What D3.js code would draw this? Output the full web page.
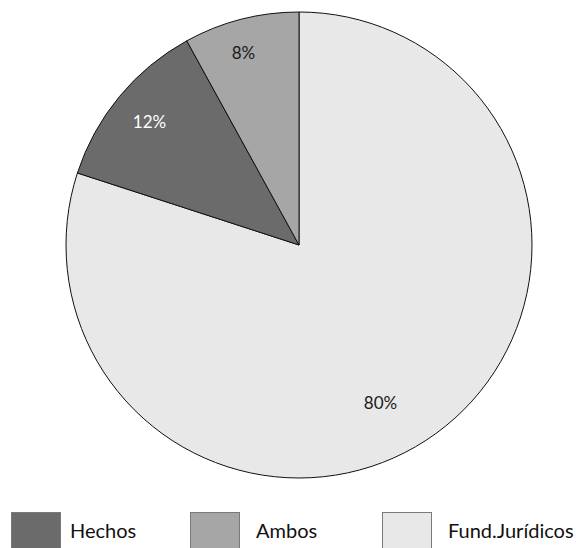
<!DOCTYPE html>
<html><head><meta charset="utf-8">
<script src="https://cdn.jsdelivr.net/npm/d3@7"></script>
<style>html,body{margin:0;padding:0;background:#fff;}</style>
</head><body>
<svg id="c" width="576" height="548"></svg>
<script>
const categories = ["Fund.Jurídicos", "Hechos", "Ambos"];
const values = [80, 12, 8];
const labels = ["80%", "12%", "8%"];
const legendOrder = ["Hechos", "Ambos", "Fund.Jurídicos"];
const colors = {"Hechos": "#6b6b6b", "Ambos": "#a6a6a6", "Fund.Jurídicos": "#e8e8e8"};
const labelColors = {"Hechos": "#ffffff", "Ambos": "#1a1a1a", "Fund.Jurídicos": "#1a1a1a"};
// label placement tweaks (angle offset in rad, radius in px)
const labelPlace = {"Fund.Jurídicos": [0.15, 177], "Hechos": [0, 194], "Ambos": [-0.03, 200]};
// legend layout (box x, text x)
const legendLayout = {"Hechos": [11, 70], "Ambos": [190, 256], "Fund.Jurídicos": [382, 448]};

const svg = d3.select("#c");
const cx = 299, cy = 245, r = 233;
const font = "Lato, 'Open Sans', sans-serif";

const data = categories.map((c, i) => ({cat: c, v: values[i], label: labels[i]}));
const pie = d3.pie().value(d => d.v).sort(null);
const arcs = pie(data);
const arc = d3.arc().innerRadius(0).outerRadius(r);

const g = svg.append("g").attr("transform", `translate(${cx},${cy})`);
g.selectAll("path").data(arcs).join("path")
  .attr("d", arc)
  .attr("fill", d => colors[d.data.cat])
  .attr("stroke", "#111")
  .attr("stroke-width", 1)
  .attr("stroke-linejoin", "round");

g.selectAll("text").data(arcs).join("text")
  .attr("transform", d => {
    const p = labelPlace[d.data.cat];
    const a = (d.startAngle + d.endAngle) / 2 + p[0];
    return `translate(${Math.sin(a) * p[1]},${-Math.cos(a) * p[1]})`;
  })
  .attr("text-anchor", "middle")
  .attr("dominant-baseline", "central")
  .attr("font-family", font)
  .attr("font-size", 17)
  .attr("fill", d => labelColors[d.data.cat])
  .text(d => d.data.label);

const lg = svg.append("g").attr("transform", "translate(0,512)");
const items = lg.selectAll("g").data(legendOrder).join("g");
items.append("rect")
  .attr("x", d => legendLayout[d][0] + 0.5).attr("y", 0.5)
  .attr("width", 49).attr("height", 40)
  .attr("fill", d => colors[d])
  .attr("stroke", "#7a7a7a").attr("stroke-width", 1);
items.append("text")
  .attr("x", d => legendLayout[d][1]).attr("y", 26)
  .attr("font-family", font)
  .attr("font-size", 20)
  .attr("fill", "#111")
  .text(d => d);
</script>
</body></html>
